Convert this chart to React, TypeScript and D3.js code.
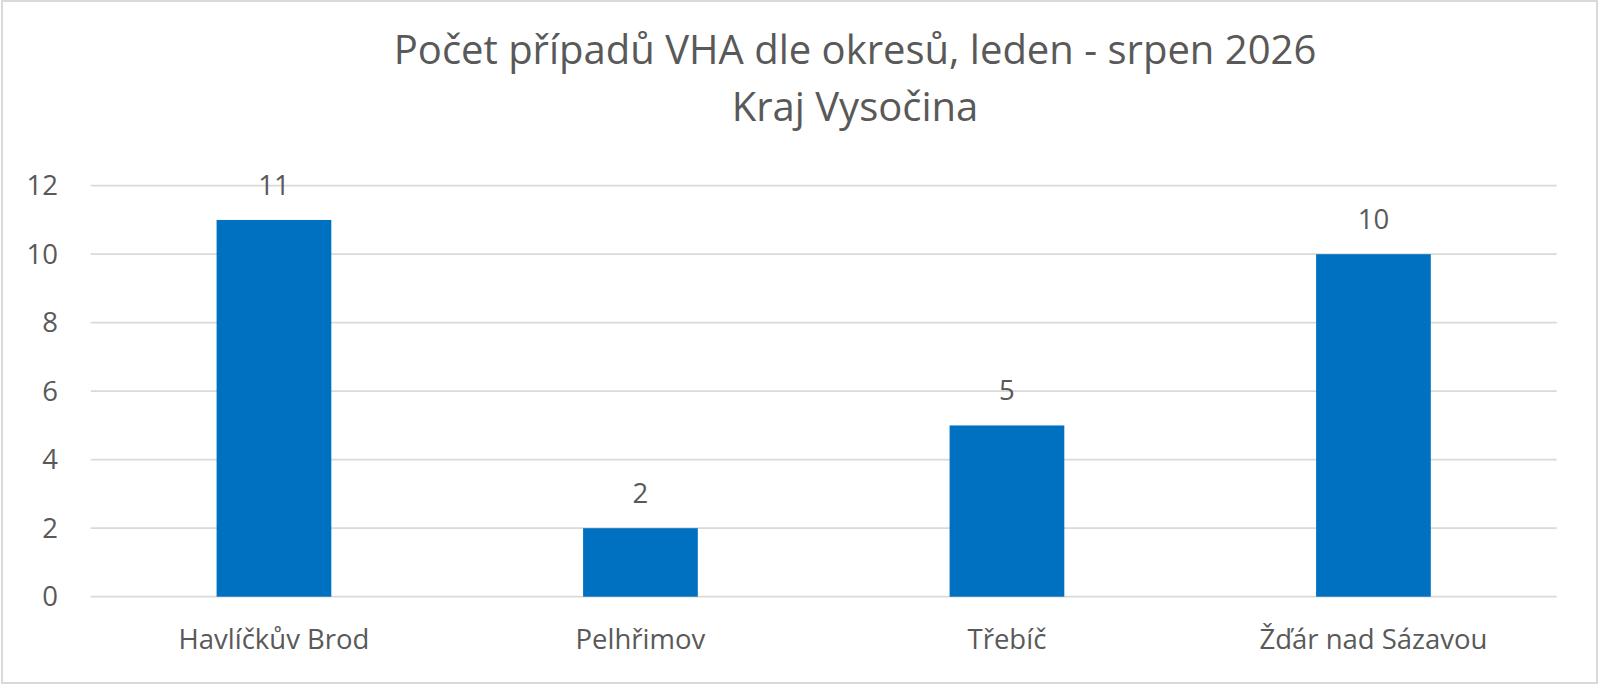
import React from "react";
import * as d3 from "d3";

const categories = ["Havlíčkův Brod", "Pelhřimov", "Třebíč", "Žďár nad Sázavou"];
const values = [11, 2, 5, 10];
const yTicks = [0, 2, 4, 6, 8, 10, 12];
const titleLines = ["Počet případů VHA dle okresů, leden - srpen 2026", "Kraj Vysočina"];

const W = 1600;
const H = 686;
const FONT = "'Open Sans', sans-serif";
const TEXT = "#595959";
const GRID = "#D9D9D9";
const BAR = "#0070C0";

export default function App() {
  const x = d3
    .scaleBand<string>()
    .domain(categories)
    .range([90.7, 1556.7])
    .paddingInner(0.687)
    .paddingOuter(0.3435);
  const y = d3.scaleLinear().domain([0, 12]).range([596.7, 185.7]);

  return (
    <div style={{ position: "fixed", left: 0, top: 0, width: W, height: H, background: "#fff" }}>
      <svg width={W} height={H} style={{ display: "block" }}>
        <rect x={0} y={0} width={W} height={H} fill="#fff" />
        <rect x={2} y={1} width={1595} height={682} fill="#fff" stroke={GRID} strokeWidth={2} />
        {titleLines.map((t, i) => (
          <text
            key={t}
            x={855}
            y={64 + i * 56.7}
            textAnchor="middle"
            fontFamily={FONT}
            fontSize={40}
            fill={TEXT}
          >
            {t}
          </text>
        ))}
        {yTicks.map((t) => (
          <g key={t}>
            <line x1={90.7} x2={1556.7} y1={y(t)} y2={y(t)} stroke={GRID} strokeWidth={1.8} />
            <text
              x={58}
              y={y(t)}
              dy="0.35em"
              textAnchor="end"
              fontFamily={FONT}
              fontSize={27.5}
              fill={TEXT}
            >
              {t}
            </text>
          </g>
        ))}
        {categories.map((c, i) => {
          const bx = x(c)!;
          const bw = x.bandwidth();
          const cx = bx + bw / 2;
          return (
            <g key={c}>
              <rect x={bx} y={y(values[i])} width={bw} height={y(0) - y(values[i])} fill={BAR} />
              <text
                x={cx}
                y={y(values[i]) - 25}
                textAnchor="middle"
                fontFamily={FONT}
                fontSize={27.5}
                fill={TEXT}
              >
                {values[i]}
              </text>
              <text x={cx} y={649} textAnchor="middle" fontFamily={FONT} fontSize={27.5} fill={TEXT}>
                {c}
              </text>
            </g>
          );
        })}
      </svg>
    </div>
  );
}
